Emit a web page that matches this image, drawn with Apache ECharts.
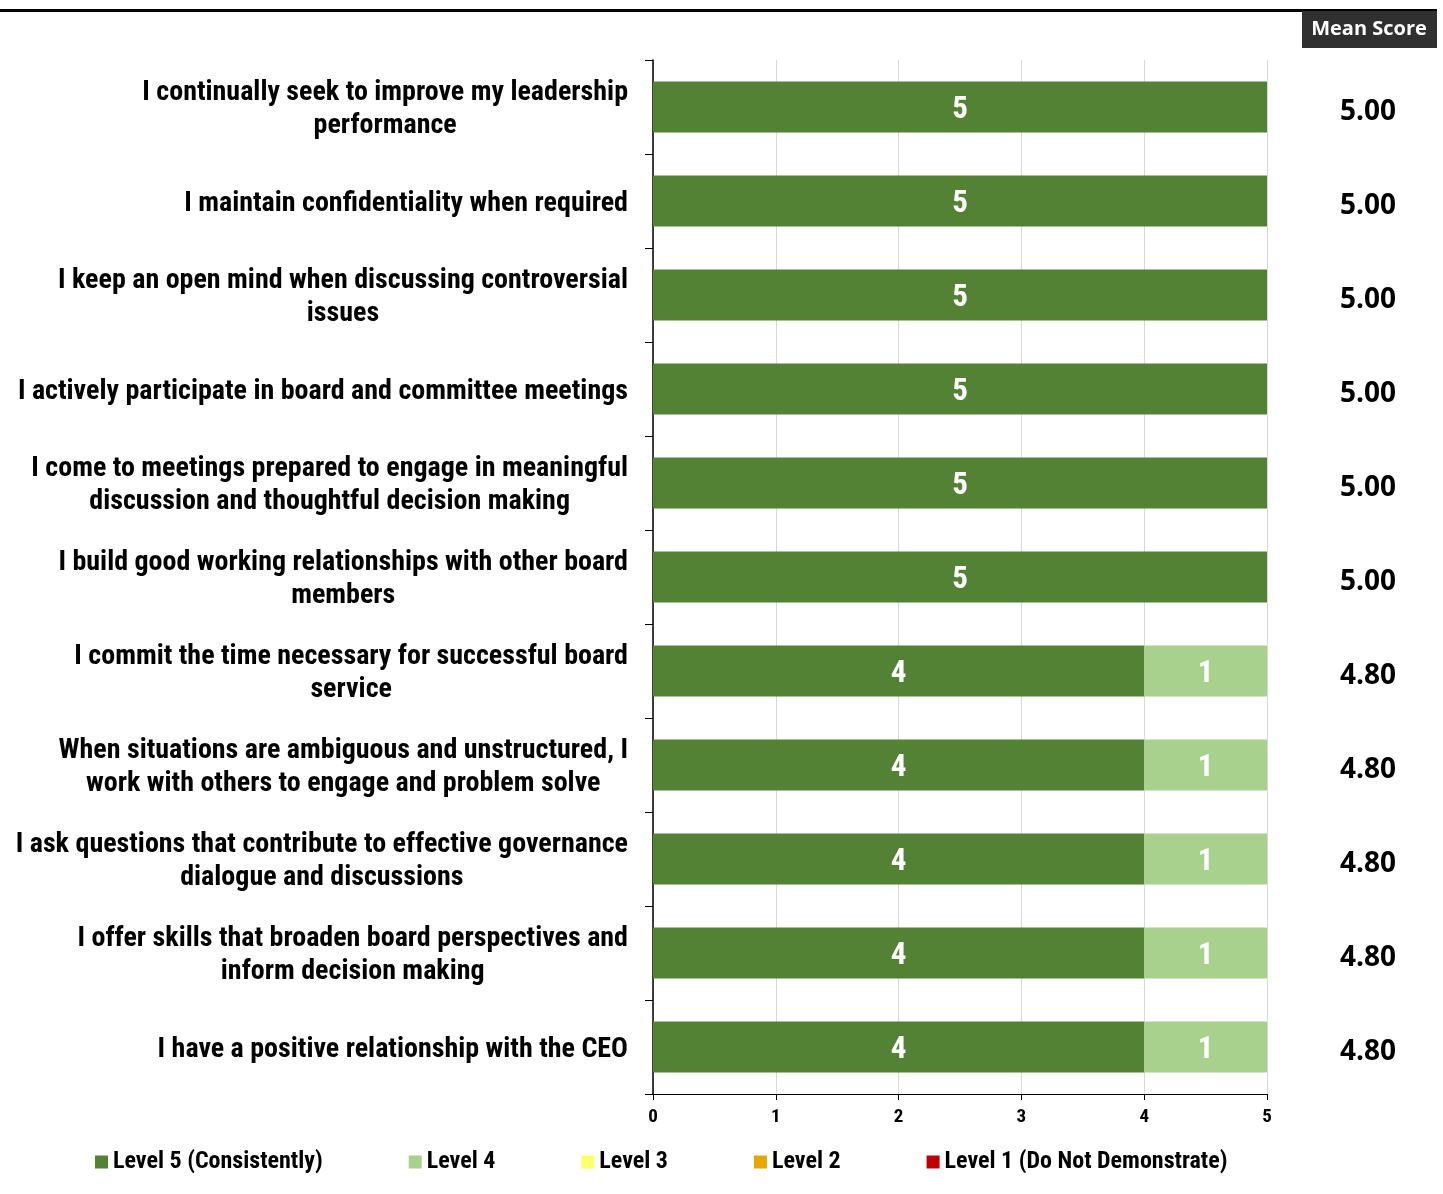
<!DOCTYPE html>
<html>
<head>
<meta charset="utf-8">
<script src="https://cdn.jsdelivr.net/npm/echarts@6/dist/echarts.min.js"></script>
<style>
html,body{margin:0;padding:0;background:#fff;}
#chart{width:1443px;height:1194px;}
</style>
</head>
<body>
<div id="chart"></div>
<script>
const categories = [
  "I continually seek to improve my leadership\nperformance",
  "I maintain confidentiality when required",
  "I keep an open mind when discussing controversial\nissues",
  "I actively participate in board and committee meetings",
  "I come to meetings prepared to engage in meaningful\ndiscussion and thoughtful decision making",
  "I build good working relationships with other board\nmembers",
  "I commit the time necessary for successful board\nservice",
  "When situations are ambiguous and unstructured, I\nwork with others to engage and problem solve",
  "I ask questions that contribute to effective governance\ndialogue and discussions",
  "I offer skills that broaden board perspectives and\ninform decision making",
  "I have a positive relationship with the CEO"
];
const level5 = [5, 5, 5, 5, 5, 5, 4, 4, 4, 4, 4];
const level4 = [0, 0, 0, 0, 0, 0, 1, 1, 1, 1, 1];
const level3 = [0, 0, 0, 0, 0, 0, 0, 0, 0, 0, 0];
const level2 = [0, 0, 0, 0, 0, 0, 0, 0, 0, 0, 0];
const level1 = [0, 0, 0, 0, 0, 0, 0, 0, 0, 0, 0];
const meanScores = [5.00, 5.00, 5.00, 5.00, 5.00, 5.00, 4.80, 4.80, 4.80, 4.80, 4.80];
const seriesNames = ["Level 5 (Consistently)", "Level 4", "Level 3", "Level 2", "Level 1 (Do Not Demonstrate)"];
const seriesColors = ["#548235", "#A9D18E", "#FFFF66", "#E6A800", "#C00000"];
const xTicks = [0, 1, 2, 3, 4, 5];

const NARROW = "'Liberation Sans Narrow', 'Arial Narrow', 'Roboto Condensed', sans-serif";

const chart = echarts.init(document.getElementById('chart'));
const seriesData = [level5, level4, level3, level2, level1];
const series = seriesData.map((d, i) => ({
  name: seriesNames[i],
  type: 'bar',
  stack: 'total',
  data: d,
  barWidth: '54%',
  itemStyle: { color: seriesColors[i] },
  label: {
    show: true,
    position: 'inside',
    offset: [0, 3],
    color: '#fff',
    fontFamily: NARROW,
    fontWeight: 'bold',
    fontSize: 31,
    formatter: p => (p.value > 0 ? String(p.value) : '')
  }
}));

chart.setOption({
  animation: false,
  backgroundColor: '#fff',
  grid: { left: 653, right: 176, top: 60, bottom: 100, containLabel: false },
  legend: {
    left: 95,
    top: 1150,
    padding: 0,
    itemWidth: 13,
    itemHeight: 13,
    itemGap: 86,
    icon: 'rect',
    data: seriesNames,
    textStyle: { fontFamily: NARROW, fontWeight: 'bold', fontSize: 24, color: '#000' }
  },
  xAxis: {
    type: 'value',
    min: 0,
    max: 5,
    interval: 1,
    axisLine: { show: true, lineStyle: { color: '#000', width: 1 } },
    axisTick: { show: true, length: 6, lineStyle: { color: '#000' } },
    splitLine: { show: true, lineStyle: { color: '#d9d9d9', width: 1 } },
    axisLabel: {
      color: '#000', fontFamily: NARROW, fontWeight: 'bold', fontSize: 19, margin: 14,
      formatter: v => (xTicks.indexOf(v) >= 0 ? String(v) : '')
    }
  },
  yAxis: [
    {
      type: 'category',
      data: categories,
      inverse: true,
      axisLine: { show: true, lineStyle: { color: '#000', width: 1.5 } },
      axisTick: { show: true, length: 8, lineStyle: { color: '#000' } },
      axisLabel: {
        margin: 25,
        padding: [5, 0, 0, 0],
        formatter: v => v.split('\n').map(l => '{c|' + l + '}').join('\n'),
        rich: {
          c: {
            align: 'center',
            fontFamily: NARROW,
            fontWeight: 'bold',
            fontSize: 28,
            lineHeight: 33,
            color: '#000'
          }
        }
      }
    },
    {
      type: 'category',
      data: categories,
      inverse: true,
      position: 'right',
      axisLine: { show: false },
      axisTick: { show: false },
      axisLabel: {
        margin: 101,
        align: 'center',
        formatter: (v, i) => '{m|' + meanScores[i].toFixed(2) + '}',
        rich: {
          m: {
            padding: [10, 0, 0, 0],
            color: '#000',
            fontFamily: "'Open Sans', sans-serif",
            fontWeight: 'bold',
            fontSize: 28
          }
        }
      }
    }
  ],
  graphic: [
    { type: 'rect', shape: { x: 0, y: 9, width: 1437, height: 3 }, style: { fill: '#000' }, z: 10 },
    { type: 'rect', shape: { x: 1302, y: 11, width: 135, height: 37 }, style: { fill: '#303030' }, z: 10 },
    {
      type: 'text', x: 1369, y: 29, z: 11,
      style: {
        text: 'Mean Score', fill: '#fff', fontFamily: "'Open Sans', sans-serif",
        fontWeight: 'bold', fontSize: 20, textAlign: 'center', textVerticalAlign: 'middle'
      }
    }
  ],
  series: series
});
</script>
</body>
</html>
